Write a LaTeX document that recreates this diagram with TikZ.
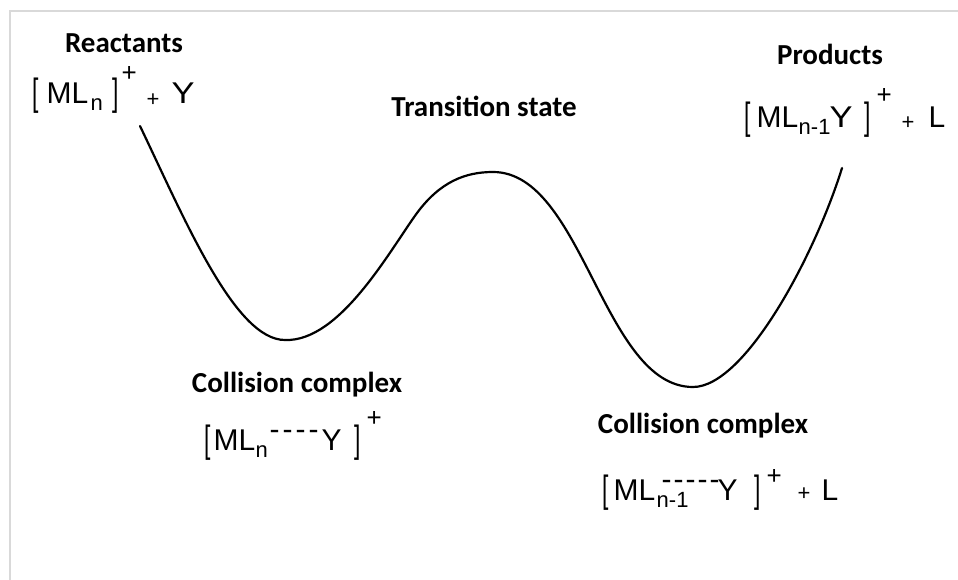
\documentclass[tikz,border=0pt]{standalone}
\usepackage{graphicx}
\usepackage{fontspec}
\newfontfamily\labfont{Carlito}
\newfontfamily\frm{Liberation Sans}
\newcommand\pc[3]{\rlap{\hspace*{#1pt}\raisebox{#2pt}{#3}}}
\newcommand\brk[1]{\scalebox{0.6}[1]{\fontsize{38}{38}\selectfont #1}}
\newcommand\sbs[1]{{\fontsize{22}{22}\selectfont #1}}
\newcommand\spl{{\fontsize{26}{26}\selectfont +}}
\newcommand\mpl{{\fontsize{22}{22}\selectfont +}}
\definecolor{framegray}{HTML}{D9D9D9}
\tikzset{
  lab/.style={font=\labfont\bfseries\fontsize{29}{29}\selectfont, anchor=base, inner sep=0},
  fml/.style={font=\frm\fontsize{30}{30}\selectfont, anchor=base west, inner sep=0},
  curve/.style={line width=2.2pt, line join=round, line cap=round},
  frameline/.style={draw=framegray, line width=2pt}
}
\begin{document}
\begin{tikzpicture}[x=1pt, y=-1pt]
\useasboundingbox (0,0) rectangle (958,580);
\fill[white] (0,0) rectangle (958,580);
\draw[frameline] (10,580) -- (10,11) -- (958,11);

% labels
\node[lab] (reactants) at (124,53) {Reactants};
\node[lab] (products) at (830,65) {Products};
\node[lab] (ts) at (484,117) {Transition state};
\node[lab] (cc1) at (297,392) {Collision complex};
\node[lab] (cc2) at (703,433) {Collision complex};

% formulas
\node[fml] (reacf) at (31,104) {\pc{1}{-2}{\brk{[}}\pc{15}{0}{ML}\pc{59}{-7}{\sbs{n}}\pc{81}{-2}{\brk{]}}\pc{90}{22}{\spl}\pc{115}{-3}{\mpl}\pc{140}{0}{\scalebox{1.15}[1]{Y}}};
\node[fml] (prodf) at (743,128) {\pc{1}{-2}{\brk{[}}\pc{13}{0}{ML}\pc{55}{-7}{\sbs{n-1}}\pc{86}{0}{\scalebox{1.15}[1]{Y}}\pc{121}{-2}{\brk{]}}\pc{133}{24}{\spl}\pc{158}{-2}{\mpl}\pc{185}{0}{L}};
\node[fml] (cc1f) at (203,450) {\pc{1}{-2}{\brk{[}}\pc{10}{0}{ML}\pc{52}{-7}{\sbs{n}}\pc{66}{11}{-\kern3pt-\kern3pt-\kern3pt-}\pc{118}{0}{Y}\pc{151}{-2}{\brk{]}}\pc{163}{24}{\spl}};
\node[fml] (cc2f) at (601,500) {\pc{1}{-2}{\brk{[}}\pc{12}{0}{ML}\pc{55}{-7}{\sbs{n-1}}\pc{60}{11}{-\kern2pt-\kern2pt-\kern2pt-\kern2pt-}\pc{116}{0}{Y}\pc{153}{-2}{\brk{]}}\pc{165}{16}{\spl}\pc{196}{0}{\mpl}\pc{220}{0}{L}};

% energy curve
\coordinate (start) at (140,126);
\coordinate (min1) at (285,340);
\coordinate (shoulder) at (417,213);
\coordinate (peak) at (493,172);
\coordinate (min2) at (693,387);
\coordinate (end) at (842,168);
\draw[curve] (start) .. controls (185,220) and (235,340) .. (min1)
  .. controls (340,342) and (390,250) .. (shoulder)
  .. controls (440,182) and (465,172) .. (peak)
  .. controls (583,172) and (603,387) .. (min2)
  .. controls (745,387) and (815,255) .. (end);
\end{tikzpicture}
\end{document}
